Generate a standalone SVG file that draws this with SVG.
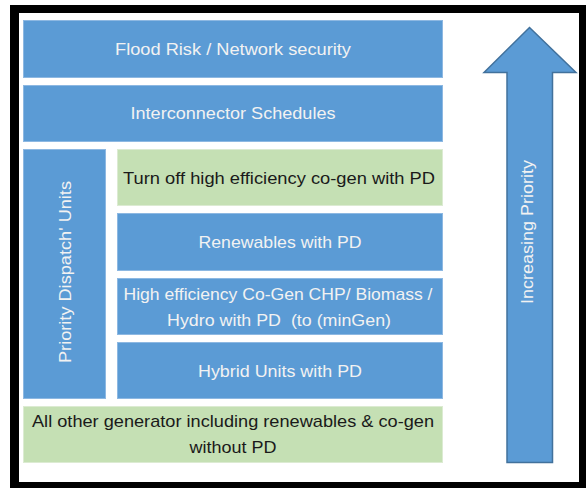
<svg xmlns="http://www.w3.org/2000/svg" width="586" height="488" viewBox="0 0 586 488">
  <style>
    .blue { fill: #5B9BD5; stroke: #8DB8E2; stroke-width: 1; }
    .green { fill: #C5E0B4; stroke: #DCEBD2; stroke-width: 1; }
    text { font-family: "Liberation Sans", Arial, sans-serif; font-size: 17px; text-anchor: middle; }
    .lt { fill: #F2F2F2; }
    .dk { fill: #1A1A1A; }
  </style>

  <!-- frame -->
  <rect x="10" y="5" width="576" height="483" fill="#000"/>
  <rect x="19" y="13" width="560" height="469" fill="#fff"/>

  <g id="flood-risk">
    <rect class="blue" x="23.5" y="20.5" width="419" height="57"/>
    <text class="lt" x="233" y="55" textLength="236" lengthAdjust="spacingAndGlyphs">Flood Risk / Network security</text>
  </g>

  <g id="interconnector">
    <rect class="blue" x="23.5" y="85.5" width="419" height="56"/>
    <text class="lt" x="233" y="119" textLength="205" lengthAdjust="spacingAndGlyphs">Interconnector Schedules</text>
  </g>

  <g id="priority-dispatch">
    <rect class="blue" x="23.5" y="149.5" width="82" height="249"/>
    <text class="lt" transform="translate(71,272) rotate(-90)" x="0" y="0" textLength="182" lengthAdjust="spacingAndGlyphs">Priority Dispatch' Units</text>
  </g>

  <g id="turn-off-cogen">
    <rect class="green" x="117.5" y="149.5" width="325" height="56"/>
    <text class="dk" x="279" y="184" textLength="312" lengthAdjust="spacingAndGlyphs">Turn off high efficiency co-gen with PD</text>
  </g>

  <g id="renewables-pd">
    <rect class="blue" x="117.5" y="213.5" width="325" height="57"/>
    <text class="lt" x="280" y="248" textLength="163" lengthAdjust="spacingAndGlyphs">Renewables with PD</text>
  </g>

  <g id="cogen-chp">
    <rect class="blue" x="117.5" y="278.5" width="325" height="56"/>
    <text class="lt" x="278" y="300" textLength="309" lengthAdjust="spacingAndGlyphs">High efficiency Co-Gen CHP/ Biomass /</text>
    <text class="lt" x="279" y="325.5" textLength="224" lengthAdjust="spacingAndGlyphs" xml:space="preserve">Hydro with PD  (to (minGen)</text>
  </g>

  <g id="hybrid-units">
    <rect class="blue" x="117.5" y="342.5" width="325" height="56"/>
    <text class="lt" x="280" y="377" textLength="164" lengthAdjust="spacingAndGlyphs">Hybrid Units with PD</text>
  </g>

  <g id="all-other">
    <rect class="green" x="23.5" y="406.5" width="419" height="56"/>
    <text class="dk" x="233" y="427" textLength="402" lengthAdjust="spacingAndGlyphs">All other generator including renewables &amp; co-gen</text>
    <text class="dk" x="233" y="453" textLength="87" lengthAdjust="spacingAndGlyphs">without PD</text>
  </g>

  <g id="priority-arrow">
    <path d="M529.5,27.5 L576,72.5 L552.5,72.5 L552.5,462.5 L507,462.5 L507,72.5 L484,72.5 Z" fill="#5B9BD5" stroke="#41719C" stroke-width="1.5" stroke-linejoin="miter"/>
    <text class="lt" transform="translate(533,232) rotate(-90)" x="0" y="0" textLength="144" lengthAdjust="spacingAndGlyphs">Increasing Priority</text>
  </g>

  <g id="connectors"/>
</svg>
